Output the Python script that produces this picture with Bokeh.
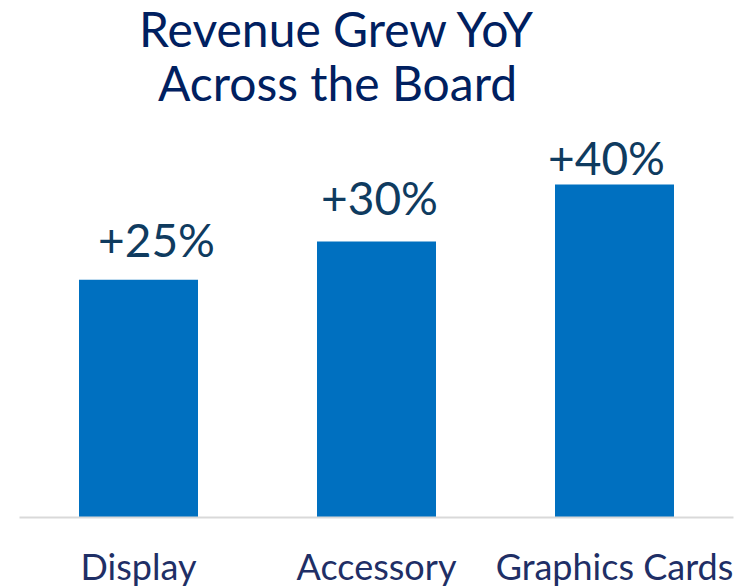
from bokeh.plotting import figure
from bokeh.models import ColumnDataSource, Range1d, Label
from bokeh.core.properties import value
from bokeh.embed import file_html
from bokeh.resources import INLINE

# ---- data ----
categories = ["Display", "Accessory", "Graphics Cards"]
revenue = [2.5, 2.9, 3.5]
growth_labels = ["+25%", "+30%", "+40%"]
title_lines = ["Revenue Grew YoY", "Across the Board"]

# label nudges (style, px)
label_dx = [18, 3, -8]
label_dy = [-40, -44, -27]

FONT = "Lato"

source = ColumnDataSource(dict(
    cat=categories, rev=revenue, lab=growth_labels, dx=label_dx, dy=label_dy
))

p = figure(
    x_range=categories,
    y_range=Range1d(0, 5.434),
    frame_width=714, frame_height=517,
    min_border_left=19, min_border_right=18,
    min_border_top=0, min_border_bottom=69,
    output_backend="svg", toolbar_location=None,
)

p.vbar(x="cat", top="rev", width=0.5, source=source,
       fill_color="#0070C0", line_color=None)

p.text(x="cat", y="rev", text="lab", source=source,
       x_offset="dx", y_offset="dy",
       text_align="center", text_baseline="alphabetic",
       text_font=value(FONT), text_font_size="46px", text_color="#0F3B5F")

# title as two centered lines at the top
for txt, yy in zip(title_lines, [489, 435]):
    p.add_layout(Label(x=318, y=yy, x_units="screen", y_units="screen",
                       text=txt, text_align="center", text_baseline="alphabetic",
                       text_font=FONT, text_font_size="48px",
                       text_color="#002060"))

p.yaxis.visible = False
p.xgrid.visible = False
p.ygrid.visible = False
p.outline_line_color = None
p.x_range.range_padding = 0

ax = p.xaxis[0]
ax.axis_line_color = "#D9D9D9"
ax.axis_line_width = 2
ax.major_tick_line_color = None
ax.minor_tick_line_color = None
ax.major_label_text_font = FONT
ax.major_label_text_font_size = "36px"
ax.major_label_text_color = "#1F2F66"
ax.major_label_standoff = 20

p.background_fill_color = "white"
p.border_fill_color = "white"

open("out.html", "w").write(file_html(p, INLINE))
